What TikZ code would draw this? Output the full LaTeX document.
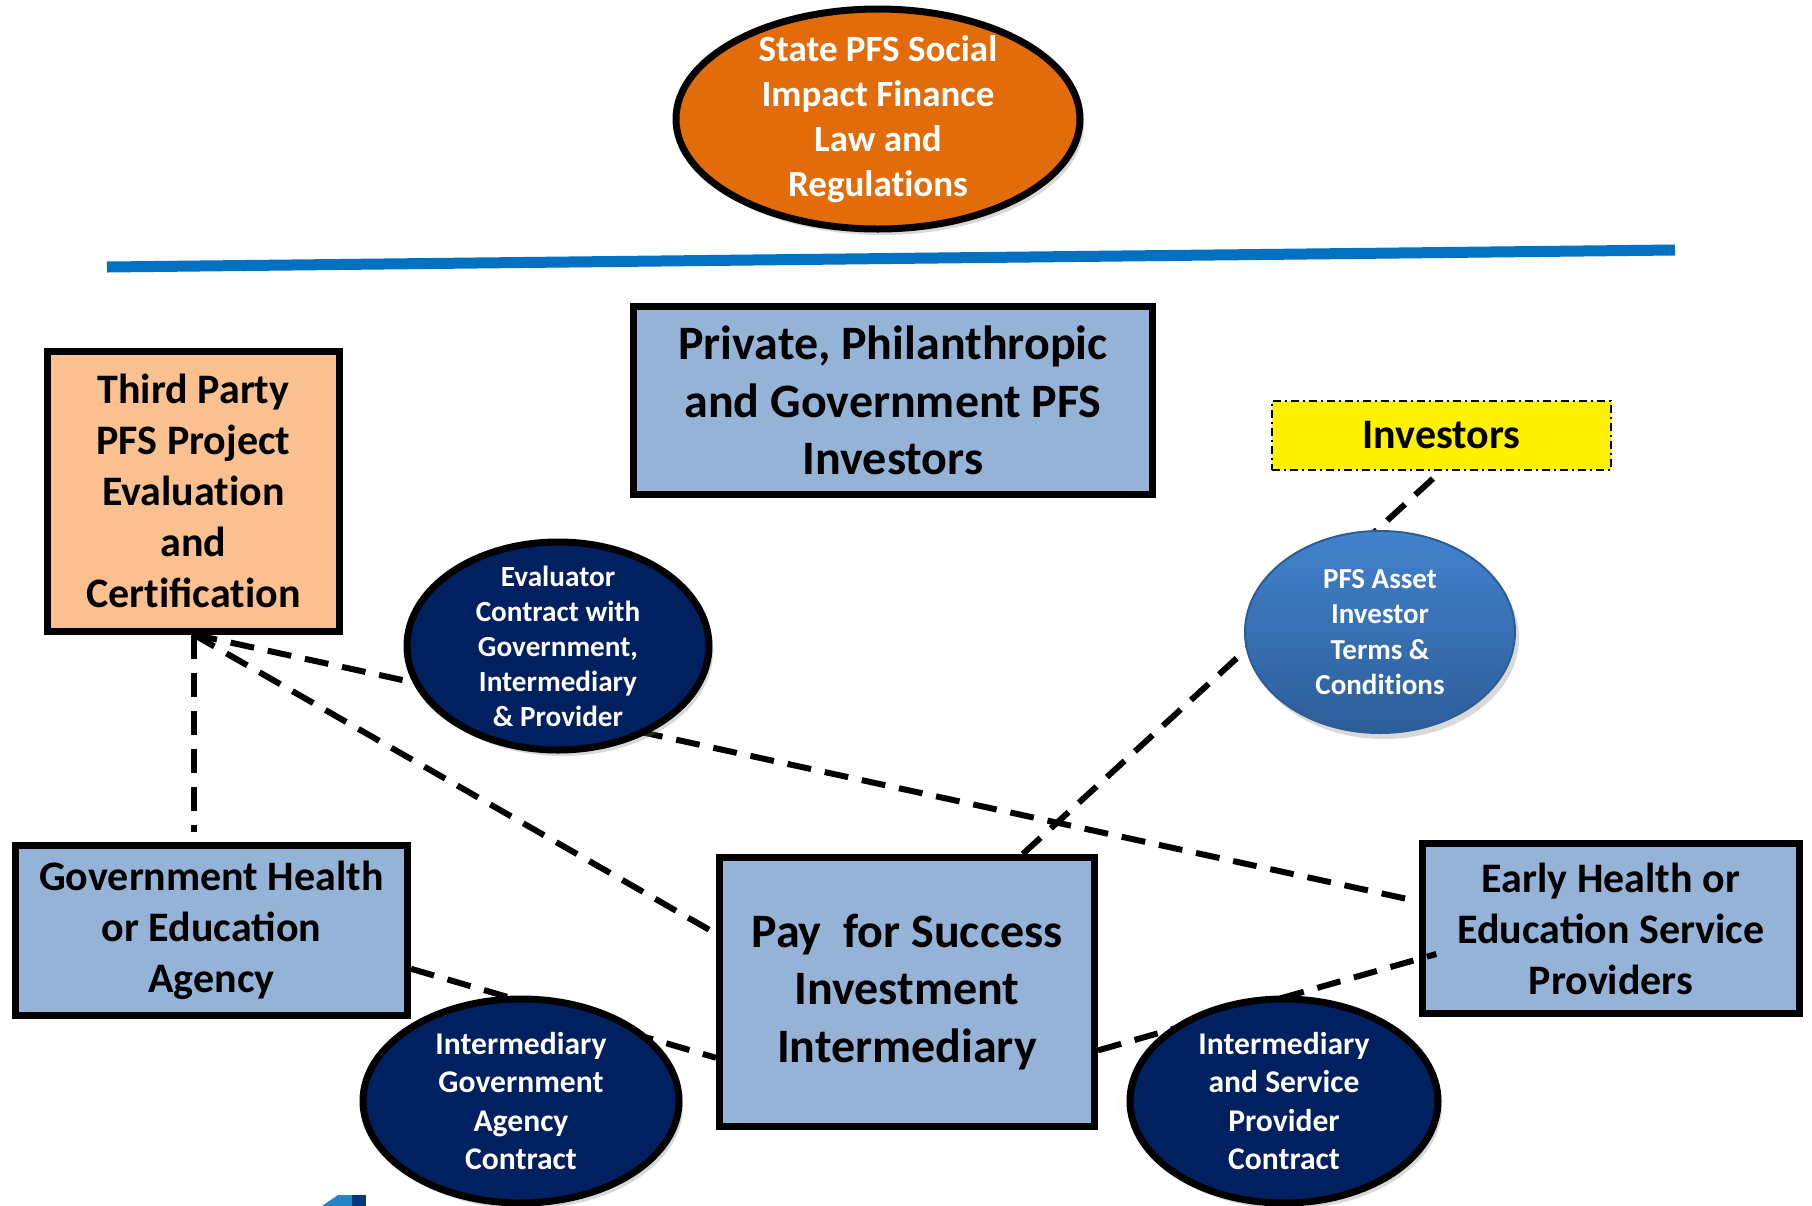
\documentclass[tikz,border=0pt]{standalone}
\usepackage{fontspec}
\setmainfont{Carlito}
\usetikzlibrary{positioning,calc,shapes.geometric,shadows}

\definecolor{lawOrange}{HTML}{E36C0A}
\definecolor{boxBlue}{HTML}{95B3D7}
\definecolor{boxPeach}{HTML}{FAC090}
\definecolor{deepNavy}{HTML}{002060}
\definecolor{ruleBlue}{HTML}{0070C0}
\definecolor{assetTop}{HTML}{4282CC}
\definecolor{assetBottom}{HTML}{2D5D99}

\newcommand{\pfsfont}[2]{\fontsize{#1}{#2}\selectfont\bfseries}
% keeps t and i apart (no ligature)
\newcommand{\tsep}{\kern0pt}

\tikzset{
  box/.style={draw=black, line width=3.5pt, align=center, inner sep=0pt},
  blob/.style={ellipse, draw=black, line width=3.5pt, align=center, inner sep=-60pt, text=white,
    drop shadow={opacity=0.3, shadow xshift=2pt, shadow yshift=-3pt}},
  link/.style={line width=3pt, dash pattern=on 12pt off 7pt},
}

\begin{document}
\begin{tikzpicture}[x=0.5pt, y=-0.5pt]

  \useasboundingbox (0,0) rectangle (1812,1206);

  % top: state law
  \node[blob, fill=lawOrange, minimum width=202pt, minimum height=110pt, font=\pfsfont{18.5}{22.5}] (law) at (878,119) {State PFS Social\\Impact Finance\\Law and\\Regulat\tsep ions};

  \coordinate (rule west) at (107,267);
  \coordinate (rule east) at (1675,250);
  \draw[ruleBlue, line width=5.5pt] (rule west) -- (rule east);

  % boxes
  \node[box, fill=boxBlue, minimum width=259.5pt, minimum height=94pt, font=\pfsfont{24}{28.9}] (backers) at (893,400.5) {Private, Philanthropic\\and Government PFS\\Investors};
  \node[box, fill=boxPeach, minimum width=146pt, minimum height=140pt, font=\pfsfont{21}{25.5}] (evalcert) at (193.5,491) {Third Party\\PFS Project\\Evaluat\tsep ion\\and\\Cert\tsep ificat\tsep ion};
  \node[draw=black, line width=0.8pt, dash pattern=on 4pt off 2pt on 1pt off 2pt, fill=yellow, minimum width=169.5pt, minimum height=34.5pt, font=\pfsfont{21}{25.5}] (investors) at (1441.5,435.5) {Investors};
  \node[box, fill=boxBlue, minimum width=196pt, minimum height=85pt, font=\pfsfont{21}{25.5}] (agency) at (211.5,930) {Government Health\\or Education\\Agency};
  \node[box, fill=boxBlue, minimum width=187.5pt, minimum height=134.5pt, font=\pfsfont{24}{28.9}] (intermediary) at (907,992) {Pay\ \ for Success\\Investment\\Intermediary};
  \node[box, fill=boxBlue, minimum width=188.5pt, minimum height=85pt, font=\pfsfont{21}{25.5}] (providers) at (1611,928.5) {Early Health or\\Education Service\\Providers};

  % links
  \path[link] (evalcert.south) edge[shorten >=5pt] (evalcert.south |- agency.north);
  \path[link] (evalcert.south) edge[shorten >=6pt] (providers.172);
  \path[link] (evalcert.south) edge (intermediary.163);
  \path[link] (agency.349) edge (intermediary.199);
  \path[link] (intermediary.343) edge[shorten >=-9pt] (providers.189);
  \path[link] (intermediary.50) edge (investors.south);

  % contracts
  \node[blob, fill=deepNavy, minimum width=151pt, minimum height=104pt, font=\pfsfont{14.6}{17.5}] (evalcontract) at (558,646) {Evaluator\\Contract with\\Government,\\Intermediary\\\& Provider};
  \node[blob, draw=assetBottom, line width=1pt, top color=assetTop, bottom color=assetBottom, minimum width=135pt, minimum height=101pt, font=\pfsfont{14.5}{17.6}] (terms) at (1380,632) {PFS Asset\\Investor\\Terms \&\\Condit\tsep ions};
  \node[blob, fill=deepNavy, minimum width=158pt, minimum height=102pt, font=\pfsfont{15.8}{19.2}] (agencycontract) at (521,1101) {Intermediary\\Government\\Agency\\Contract};
  \node[blob, fill=deepNavy, minimum width=154pt, minimum height=102pt, font=\pfsfont{15.8}{19.2}] (providercontract) at (1284,1101) {Intermediary\\and Service\\Provider\\Contract};

  % logo corner
  \fill[color=ruleBlue!85] (322,1206) -- (338,1195) -- (352,1195) -- (352,1206) -- cycle;
  \fill[color=deepNavy!70!ruleBlue] (352,1195) rectangle (366,1206);

\end{tikzpicture}
\end{document}
